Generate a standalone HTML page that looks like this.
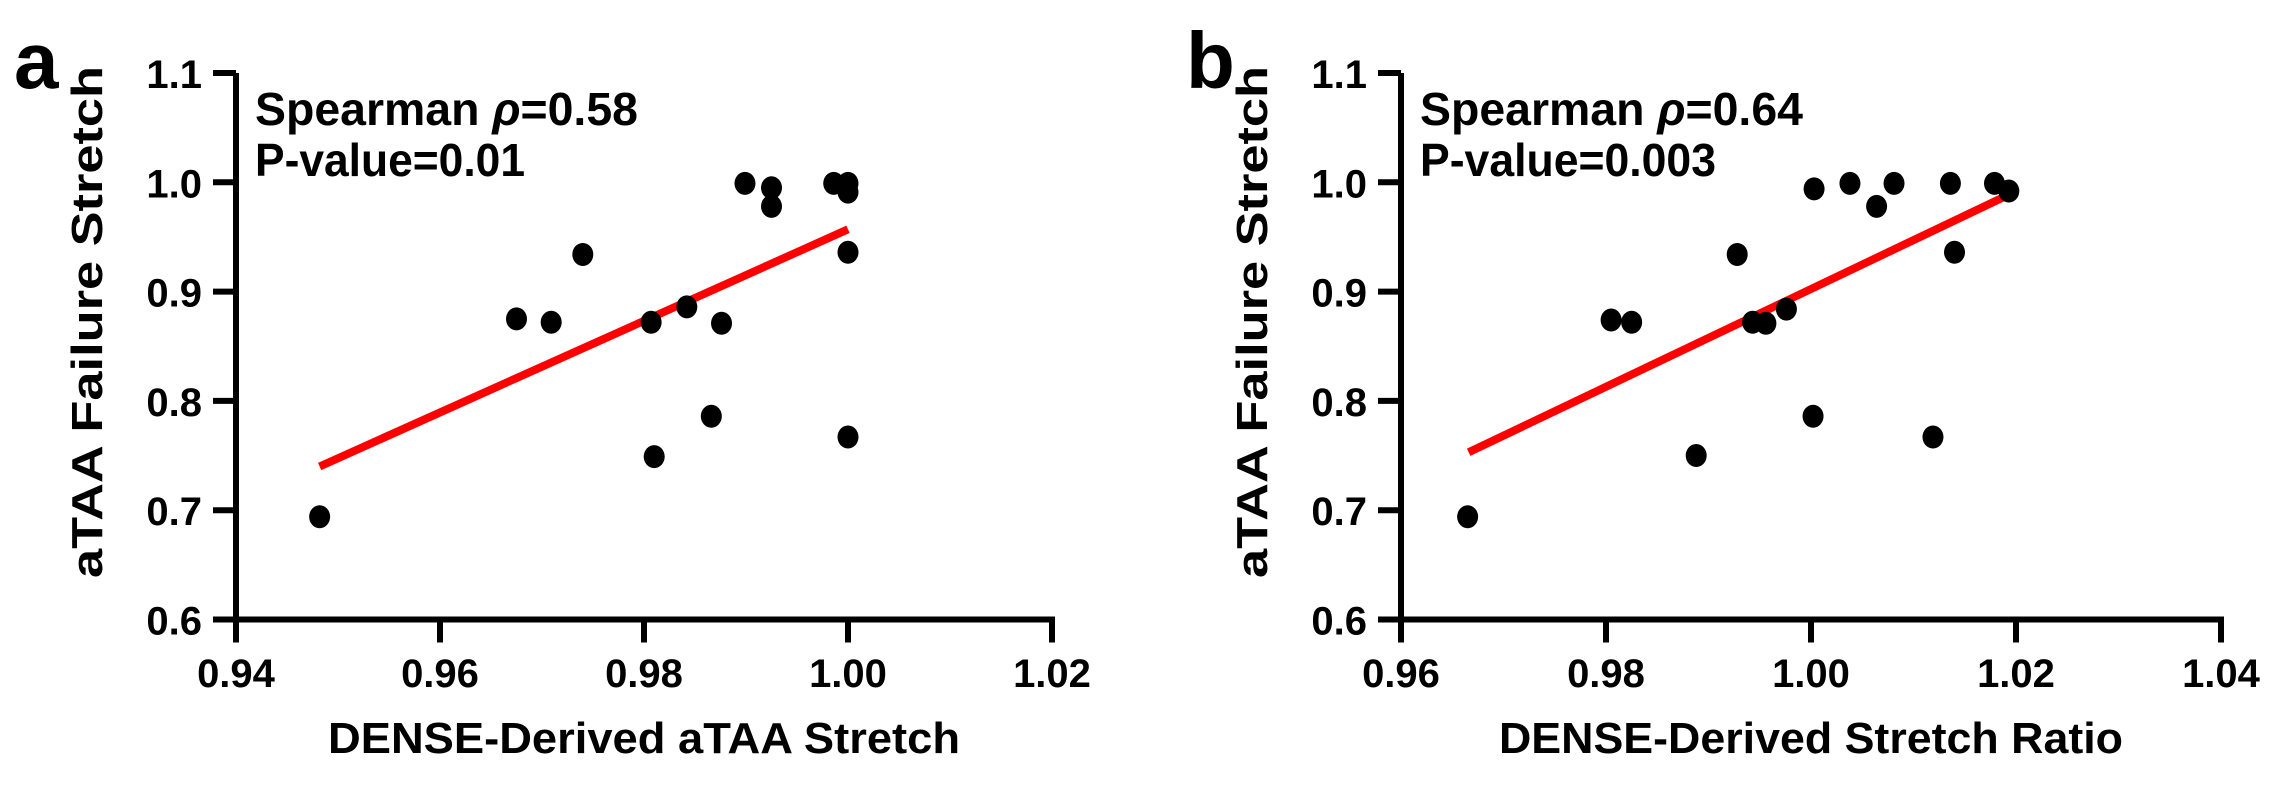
<!DOCTYPE html>
<html><head><meta charset="utf-8"><style>
html,body{margin:0;padding:0;background:#fff;}
svg{display:block;font-family:"Liberation Sans",Arial,sans-serif;font-weight:bold;}
</style></head><body>
<svg id="fig" width="2294" height="796" viewBox="0 0 2294 796"></svg>
<script>
const aX=[0.9482,0.9675,0.9709,0.9740,0.9807,0.9842,0.9876,0.9866,0.9810,0.9899,0.9925,0.9925,0.9986,1.0000,1.0000,1.0000,1.0000];
const aY=[0.694,0.875,0.872,0.934,0.872,0.886,0.871,0.786,0.749,0.999,0.995,0.978,0.999,0.999,0.991,0.936,0.767];
const aFit=[[0.9482,0.740],[1.0000,0.957]];
const aXTicks=[0.94,0.96,0.98,1.00,1.02];
const bX=[0.9665,0.9805,0.9825,0.9928,0.9943,0.9956,0.9976,0.9888,1.0002,1.0003,1.0038,1.0064,1.0081,1.0136,1.0179,1.0193,1.0140,1.0119];
const bY=[0.694,0.874,0.872,0.934,0.872,0.871,0.884,0.750,0.786,0.994,0.999,0.978,0.999,0.999,0.999,0.992,0.936,0.767];
const bFit=[[0.9666,0.753],[1.0187,0.986]];
const bXTicks=[0.96,0.98,1.00,1.02,1.04];
const yTicks=[0.6,0.7,0.8,0.9,1.0,1.1];

const NS='http://www.w3.org/2000/svg';
const svg=document.getElementById('fig');
function mk(tag,attrs,parent){const e=document.createElementNS(NS,tag);for(const k in attrs)e.setAttribute(k,attrs[k]);(parent||svg).appendChild(e);return e;}

function panel(cfg){
  const g=mk('g',{});
  
  
  const x0=cfg.x0, xs=cfg.xTicks;
  const sx=v=>x0+(v-xs[0])/0.02*cfg.step;
  const sy=v=>73+(1.1-v)/0.1*109.3;
  const yb=sy(0.6), xe=sx(xs[xs.length-1]);
  const ya=mk('line',{x1:x0,y1:sy(1.1),x2:x0,y2:yb+3,stroke:'#000','stroke-width':6},g);
  
  
  const xa=mk('line',{x1:x0-23,y1:yb,x2:xe+3,y2:yb,stroke:'#000','stroke-width':6},g);
  
  
  yTicks.forEach(v=>{
    const y=sy(v);
    if(v!==0.6){const t=mk('line',{x1:x0-23,y1:y,x2:x0,y2:y,stroke:'#000','stroke-width':6},g);
    
    }
    const l=mk('text',{x:x0-34,y:y+15,'font-size':40,'text-anchor':'end'},g);
    l.textContent=v.toFixed(1);
    
    
  });
  xs.forEach(v=>{
    const x=sx(v);
    const t=mk('line',{x1:x,y1:yb,x2:x,y2:yb+23,stroke:'#000','stroke-width':6},g);
    
    
    const l=mk('text',{x:x,y:687,'font-size':40,'text-anchor':'middle'},g);
    l.textContent=v.toFixed(2);
    
    
  });
  const f=cfg.fit;
  const fl=mk('line',{x1:sx(f[0][0]),y1:sy(f[0][1]),x2:sx(f[1][0]),y2:sy(f[1][1]),stroke:'#ff0000','stroke-width':8},g);
  
  
  cfg.xv.forEach((v,i)=>{
    const c=mk('ellipse',{cx:sx(v),cy:sy(cfg.yv[i]),rx:10.5,ry:11.5,fill:'#000'},g);
    
    
  });
  const s=mk('text',{x:x0+19,y:125,'font-size':46,textLength:cfg.sw,lengthAdjust:'spacingAndGlyphs'},g);
  s.innerHTML='Spearman <tspan font-style="italic">ρ</tspan>='+cfg.rho;
  
  
  const p=mk('text',{x:x0+19,y:176,'font-size':46,textLength:cfg.pw,lengthAdjust:'spacingAndGlyphs'},g);
  p.textContent='P-value='+cfg.p;
  
  
  const xt=mk('text',{x:(x0+xe)/2,y:753,'font-size':44,'text-anchor':'middle',textLength:cfg.xtw,lengthAdjust:'spacingAndGlyphs'},g);
  xt.setAttribute('xml:space','preserve');
  xt.textContent=cfg.xtitle;
  
  
  const cx=x0-150, cy=322;
  const yt=mk('text',{x:cx,y:cy+16,'font-size':44,'text-anchor':'middle',textLength:512,lengthAdjust:'spacingAndGlyphs',transform:'rotate(-90 '+cx+' '+cy+')'},g);
  yt.textContent='aTAA Failure Stretch';
  
  
  const pl=mk('text',{x:cfg.lx,y:88,'font-size':80},g);
  pl.textContent=cfg.letter;
  
  
}
panel({name:'panel-a',x0:236,step:204,xTicks:aXTicks,xv:aX,yv:aY,fit:aFit,rho:'0.58',p:'0.01',sw:383,pw:270,xtitle:'DENSE-Derived aTAA  Stretch',xtw:632,letter:'a',lx:14});
panel({name:'panel-b',x0:1401,step:205,xTicks:bXTicks,xv:bX,yv:bY,fit:bFit,rho:'0.64',p:'0.003',sw:383,pw:296,xtitle:'DENSE-Derived Stretch Ratio',xtw:624,letter:'b',lx:1186});
</script>
</body></html>
